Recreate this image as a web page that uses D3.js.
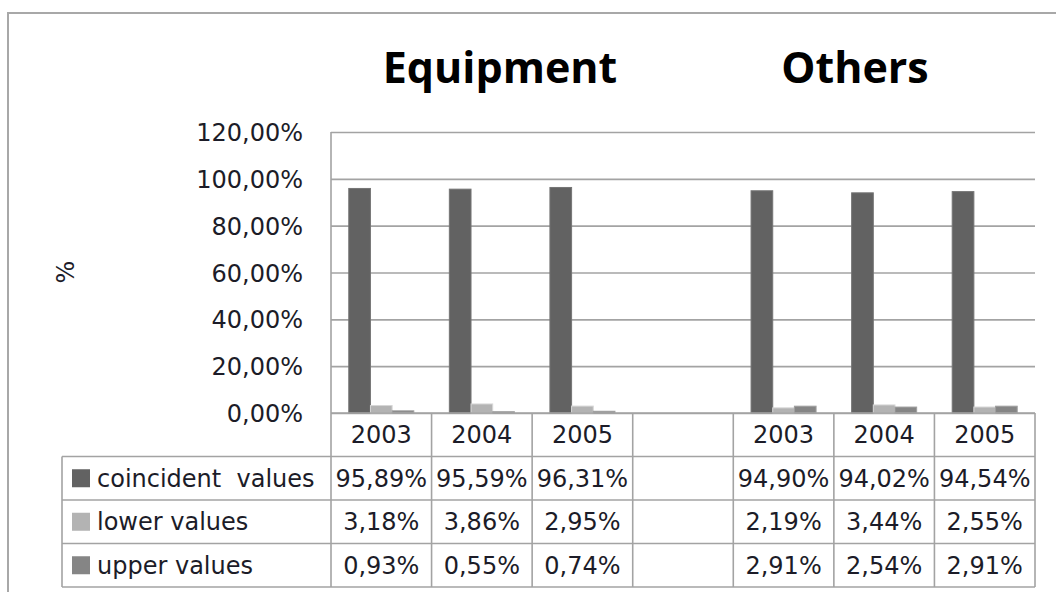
<!DOCTYPE html>
<html>
<head>
<meta charset="utf-8">
<script src="https://cdn.jsdelivr.net/npm/d3@7"></script>
<style>
  html, body { margin: 0; padding: 0; background: #fff; }
  svg { display: block; }
  .cell-text { font-family: "DejaVu Sans", Verdana, sans-serif; font-size: 24px; fill: #1c1c28; }
  .title { font-family: "Open Sans", sans-serif; font-weight: bold; font-size: 43px; fill: #000; }
</style>
</head>
<body>
<div id="chart"></div>
<script>
// chart data
var groups = ["Equipment", "Others"];
var years = ["2003", "2004", "2005"];
var columns = ["2003", "2004", "2005", "", "2003", "2004", "2005"];
var seriesNames = ["coincident  values", "lower values", "upper values"];
var coincident = [0.9589, 0.9559, 0.9631, null, 0.9490, 0.9402, 0.9454];
var lower = [0.0318, 0.0386, 0.0295, null, 0.0219, 0.0344, 0.0255];
var upper = [0.0093, 0.0055, 0.0074, null, 0.0291, 0.0254, 0.0291];
var yTicks = [0, 0.2, 0.4, 0.6, 0.8, 1.0, 1.2];

function BarTable(params) {

  var attrs = Object.assign({
    container: '#chart',
    width: 1056,
    height: 592,
    plotLeft: 331,
    plotRight: 1035,
    plotTop: 132,
    plotBottom: 413,
    rowHeight: 43.5,
    labelLeft: 62,
    colors: ['#626262', '#b3b3b3', '#858585'],
    lineColor: '#a3a3a3'
  }, params);

  var locale = d3.formatLocale({ decimal: ",", thousands: ".", grouping: [3], currency: ["", ""] });
  var pct = locale.format(".2%");

  function main() {
    var svg = d3.select(attrs.container).append('svg')
      .attr('width', attrs.width)
      .attr('height', attrs.height);

    // outer chart border (runs off the picture at right and bottom)
    svg.append('rect')
      .attr('x', 8).attr('y', 13)
      .attr('width', attrs.width + 20).attr('height', attrs.height + 20)
      .attr('fill', 'none')
      .attr('stroke', '#a8a8a8')
      .attr('stroke-width', 2);

    var x0 = d3.scaleBand()
      .domain(d3.range(columns.length))
      .range([attrs.plotLeft, attrs.plotRight])
      .padding(0);

    var x1 = d3.scaleBand()
      .domain(d3.range(seriesNames.length))
      .range([0, x0.bandwidth()])
      .paddingInner(0)
      .paddingOuter(0.82);

    var y = d3.scaleLinear()
      .domain([0, 1.2])
      .range([attrs.plotBottom, attrs.plotTop]);

    // gridlines + y labels
    var yAxis = d3.axisLeft(y)
      .tickValues(yTicks)
      .tickSize(-(attrs.plotRight - attrs.plotLeft))
      .tickPadding(28)
      .tickFormat(pct);

    var gy = svg.append('g')
      .attr('transform', 'translate(' + attrs.plotLeft + ',0)')
      .call(yAxis);
    gy.select('.domain').remove();
    gy.selectAll('.tick line')
      .attr('stroke', attrs.lineColor)
      .attr('stroke-width', 1.6);
    gy.selectAll('.tick text')
      .attr('class', 'cell-text')
      .attr('dy', '0.36em')
      .style('font-size', '24px')
      .style('font-family', '"DejaVu Sans", Verdana, sans-serif')
      .attr('fill', '#1c1c28');

    // y title
    svg.append('text')
      .attr('class', 'cell-text')
      .attr('transform', 'translate(66,272) rotate(-90)')
      .attr('text-anchor', 'middle')
      .attr('dy', '0.35em')
      .style('font-size', '24px')
      .text('%');

    // titles
    var groupCenters = [500, 855];
    svg.selectAll('.title')
      .data(groups)
      .enter().append('text')
      .attr('class', 'title')
      .attr('x', function (d, i) { return groupCenters[i]; })
      .attr('y', 83)
      .attr('text-anchor', 'middle')
      .text(function (d) { return d; });

    // bars
    var series = [coincident, lower, upper];
    var gBars = svg.append('g');
    series.forEach(function (values, s) {
      gBars.selectAll('.bar-' + s)
        .data(values.map(function (v, i) { return { i: i, v: v }; }).filter(function (d) { return d.v != null; }))
        .enter().append('rect')
        .attr('class', 'bar-' + s)
        .attr('x', function (d) { return x0(d.i) + x1(s); })
        .attr('y', function (d) { return y(d.v); })
        .attr('width', x1.bandwidth())
        .attr('height', function (d) { return y(0) - y(d.v); })
        .attr('fill', attrs.colors[s])
        .attr('stroke', d3.color(attrs.colors[s]).brighter(0.5))
        .attr('stroke-width', 1);
    });

    // data table
    var table = svg.append('g');
    var rh = attrs.rowHeight;
    var top = attrs.plotBottom;

    // horizontal lines of table
    var hLines = d3.range(5).map(function (r) { return top + r * rh; });
    table.selectAll('.hline')
      .data(hLines)
      .enter().append('line')
      .attr('x1', function (d, r) { return r === 0 ? attrs.plotLeft : attrs.labelLeft; })
      .attr('x2', attrs.plotRight)
      .attr('y1', function (d) { return d; })
      .attr('y2', function (d) { return d; })
      .attr('stroke', attrs.lineColor)
      .attr('stroke-width', 1.6);

    // vertical lines of table
    var vx = d3.range(columns.length + 1).map(function (c) { return c < columns.length ? x0(c) : attrs.plotRight; });
    table.selectAll('.vline')
      .data(vx)
      .enter().append('line')
      .attr('x1', function (d) { return d; })
      .attr('x2', function (d) { return d; })
      .attr('y1', function (d, c) { return c === 0 ? attrs.plotTop : top; })
      .attr('y2', top + 4 * rh)
      .attr('stroke', attrs.lineColor)
      .attr('stroke-width', 1.6);
    table.append('line')
      .attr('x1', attrs.labelLeft).attr('x2', attrs.labelLeft)
      .attr('y1', top + rh).attr('y2', top + 4 * rh)
      .attr('stroke', attrs.lineColor)
      .attr('stroke-width', 1.6);

    // header row: years
    table.selectAll('.year')
      .data(columns)
      .enter().append('text')
      .attr('class', 'cell-text')
      .attr('x', function (d, i) { return x0(i) + x0.bandwidth() / 2; })
      .attr('y', top + rh / 2)
      .attr('dy', '0.36em')
      .attr('text-anchor', 'middle')
      .text(function (d) { return d; });

    // value rows
    series.forEach(function (values, s) {
      var rowY = top + (s + 1) * rh + rh / 2;
      table.append('rect')
        .attr('x', 72).attr('y', rowY - 9)
        .attr('width', 18).attr('height', 18)
        .attr('fill', attrs.colors[s]);
      table.append('text')
        .attr('class', 'cell-text')
        .attr('x', 97)
        .attr('y', rowY)
        .attr('dy', '0.36em')
        .style('white-space', 'pre')
        .text(seriesNames[s]);
      table.selectAll('.val-' + s)
        .data(values)
        .enter().append('text')
        .attr('class', 'cell-text')
        .attr('x', function (d, i) { return x0(i) + x0.bandwidth() / 2; })
        .attr('y', rowY)
        .attr('dy', '0.36em')
        .attr('text-anchor', 'middle')
        .text(function (d) { return d == null ? '' : pct(d); });
    });
  }

  main.render = function () {
    main();
    return main;
  };

  return main;
}

BarTable().render();
</script>
</body>
</html>
